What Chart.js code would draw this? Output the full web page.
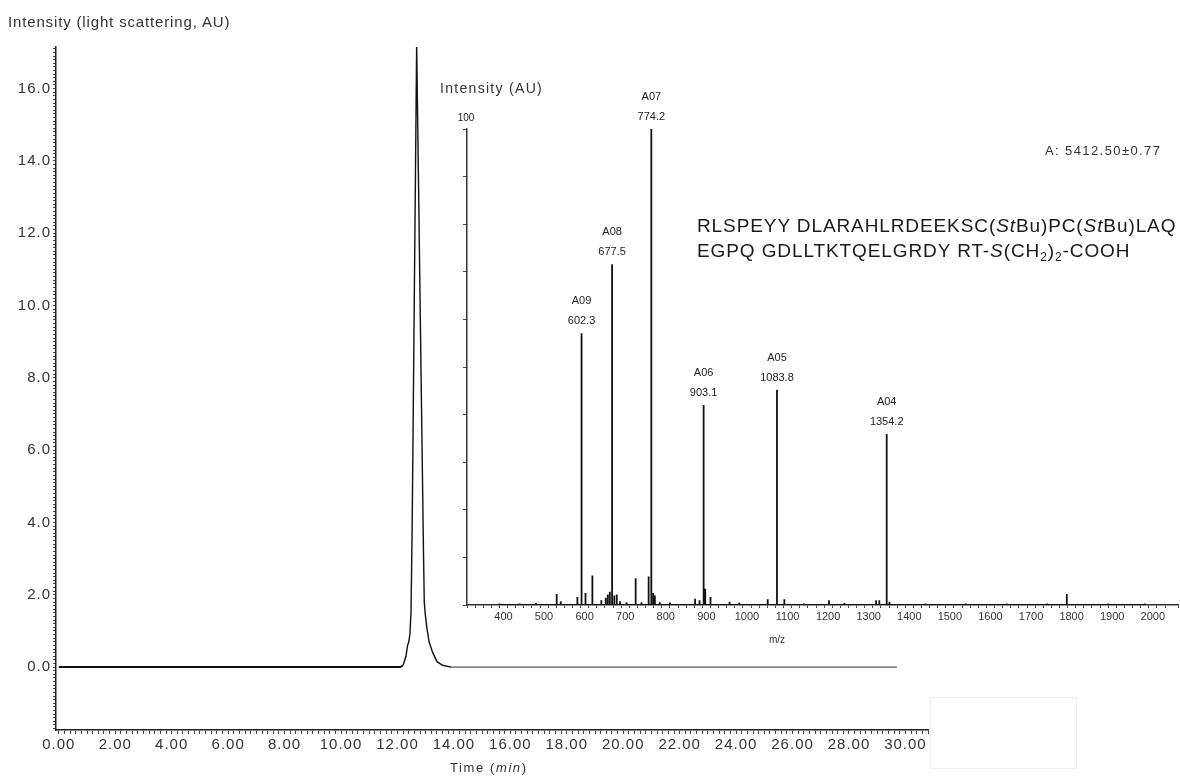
<!DOCTYPE html>
<html>
<head>
<meta charset="utf-8">
<script src="https://cdn.jsdelivr.net/npm/chart.js@4"></script>
<style>
  body { margin: 0; background: #fff; font-family: "Liberation Sans", Arial, sans-serif; color: #222; }
  #wrap { position: relative; width: 1180px; height: 778px; overflow: hidden; }
  canvas { position: absolute; }
  #main { left: 0; top: 0; }
  #inset { left: 420px; top: 80px; }
  .txt { position: absolute; white-space: nowrap; line-height: 1; }
  .seq { font-size: 19px; letter-spacing: 0.9px; color: #1a1a1a; }
  .seq sub { font-size: 12px; vertical-align: -4px; line-height: 0; }
  #blank { position: absolute; left: 930px; top: 697px; width: 145px; height: 70px; border: 1px solid #f0f0f0; }
</style>
</head>
<body>
<div id="wrap">
  <canvas id="main" width="1180" height="778"></canvas>
  <canvas id="inset" width="760" height="580"></canvas>
  <div class="txt" style="left:8px; top:14px; font-size:15px; letter-spacing:0.85px; color:#333;">Intensity (light scattering, AU)</div>
  <div class="txt" style="left:450px; top:761px; font-size:13px; letter-spacing:1.6px; color:#333;">Time (<i>min</i>)</div>
  <div class="txt" style="left:440px; top:81px; font-size:14px; letter-spacing:1.3px; color:#333;">Intensity (AU)</div>
  <div class="txt" style="left:769px; top:635px; font-size:10px; color:#333;">m/z</div>
  <div class="txt" style="left:1045px; top:144px; font-size:13px; letter-spacing:1.4px; color:#333;">A: 5412.50±0.77</div>
  <div class="txt seq" style="left:697px; top:216px;">RLSPEYY DLARAHLRDEEKSC(<i>S</i><i>t</i>Bu)PC(<i>S</i><i>t</i>Bu)LAQ</div>
  <div class="txt seq" style="left:697px; top:241px;">EGPQ GDLLTKTQELGRDY RT-<i>S</i>(CH<sub>2</sub>)<sub>2</sub>-COOH</div>
  <div id="blank"></div>
</div>
<script>
// ===== Data: chromatogram (light scattering) =====
const timeMin = [0, 12.1, 12.2, 12.3, 12.36, 12.4, 12.44, 12.48, 12.52, 12.56, 12.6, 12.64, 12.68,
  12.72, 12.76, 12.8, 12.84, 12.88, 12.92, 12.95, 12.98, 13.04, 13.12, 13.25, 13.4, 13.6, 13.9, 29.7];
const lightScatter = [0, 0, 0.05, 0.3, 0.6, 0.7, 0.9, 1.5, 3.8, 7.1, 10.5, 13.8, 17.2,
  14.9, 12.6, 10.2, 7.9, 5.6, 3.3, 1.8, 1.5, 1.1, 0.7, 0.4, 0.15, 0.05, 0, 0];

// ===== Data: mass spectrum (inset) =====
const ionNames = ["A09", "A08", "A07", "A06", "A05", "A04"];
const ionMz = [602.3, 677.5, 774.2, 903.1, 1083.8, 1354.2];
const ionIntensity = [57.1, 71.6, 100, 42, 45.2, 35.9];
const minorMz = [400, 450, 490, 541, 551, 592, 612, 629, 651, 662, 667, 672, 683, 689, 697, 713, 735.6, 750,
  767.6, 779, 783, 795, 820, 882, 893, 907, 920, 967, 991, 1061, 1102, 1150, 1212, 1250, 1328, 1336, 1361,
  1450, 1550, 1650, 1750, 1798, 1900, 1990];
const minorIntensity = [0.3, 0.3, 0.4, 2.3, 0.8, 1.7, 2.5, 6.2, 1.0, 1.5, 2.2, 2.8, 2.0, 2.2, 0.8, 0.6, 5.6, 0.6,
  6.0, 2.5, 2.0, 0.6, 0.5, 1.3, 1.0, 3.4, 1.7, 0.7, 0.5, 1.2, 1.2, 0.3, 1.0, 0.4, 1.0, 1.0, 0.7,
  0.3, 0.3, 0.3, 0.3, 2.3, 0.3, 0.3];

const FONT = "'Liberation Sans', Arial, sans-serif";
const isMult = (v, m) => Math.abs(v / m - Math.round(v / m)) < 1e-6;

// wider tick lettering, like the original instrument print-out
const wideText = {
  id: "wideText",
  beforeDraw(chart) {
    chart.ctx.letterSpacing = "1px";
  },
};

// ===== Main chromatogram =====
new Chart(document.getElementById("main"), {
  type: "line",
  data: {
    datasets: [{
      data: timeMin.map((t, i) => ({ x: t, y: lightScatter[i] })),
      borderColor: "#111",
      borderWidth: 1.8,
      pointRadius: 0,
      tension: 0,
      segment: {
        borderColor: (ctx) => (ctx.p0.parsed.x >= 13.9 ? "#555" : "#111"),
        borderWidth: (ctx) => (ctx.p0.parsed.x >= 12.2 ? 1.4 : 2),
      },
    }],
  },
  options: {
    responsive: false,
    animation: false,
    layout: { padding: { top: 47, right: 252, left: 0, bottom: 0 } },
    plugins: { legend: { display: false }, tooltip: { enabled: false } },
    scales: {
      x: {
        type: "linear",
        min: -0.1,
        max: 30.8,
        afterFit: (s) => { s.height = 48; },
        border: { color: "#222", width: 1.5 },
        grid: { drawOnChartArea: false, tickLength: 4, color: "#444" },
        ticks: {
          stepSize: 0.2,
          includeBounds: false,
          autoSkip: false,
          maxRotation: 0,
          padding: 2,
          color: "#333",
          font: { family: FONT, size: 15 },
          callback: (v) => (isMult(v, 2) && v >= 0 && v <= 30 ? v.toFixed(2) : ""),
        },
      },
      y: {
        min: -1.74,
        max: 17.15,
        afterFit: (s) => { s.width = 56; },
        border: { color: "#222", width: 1.5 },
        grid: { drawOnChartArea: false, tickLength: 3, color: "#444" },
        ticks: {
          stepSize: 0.1,
          includeBounds: false,
          autoSkip: false,
          padding: 2,
          color: "#333",
          font: { family: FONT, size: 15 },
          callback: (v) => (isMult(v, 2) && v >= 0 ? v.toFixed(1) : ""),
        },
      },
    },
  },
  plugins: [wideText],
});

// ===== Inset mass spectrum =====
const sticks = ionMz.map((m, i) => ({ mz: m, h: ionIntensity[i] }))
  .concat(minorMz.map((m, i) => ({ mz: m, h: minorIntensity[i] })))
  .sort((a, b) => a.mz - b.mz);
const stickPoints = [];
sticks.forEach((p) => {
  stickPoints.push({ x: p.mz, y: 0 }, { x: p.mz, y: p.h }, { x: p.mz, y: 0 });
});

const ionLabels = {
  id: "ionLabels",
  afterDatasetsDraw(chart) {
    const { ctx, scales } = chart;
    ctx.save();
    ctx.fillStyle = "#222";
    ctx.textAlign = "center";
    ctx.textBaseline = "middle";
    ctx.font = "11px " + FONT;
    ionMz.forEach((m, i) => {
      const x = scales.x.getPixelForValue(m);
      const y = scales.y.getPixelForValue(ionIntensity[i]);
      ctx.fillText(ionNames[i], x, y - 32);
      ctx.fillText(m.toFixed(1), x, y - 12);
    });
    // top tick value of the intensity axis
    ctx.font = "10px " + FONT;
    ctx.fillText("100", scales.y.left + scales.y.width - 1, scales.y.getPixelForValue(100) - 11);
    ctx.restore();
  },
};

new Chart(document.getElementById("inset"), {
  type: "line",
  data: {
    datasets: [{
      data: stickPoints,
      borderColor: "#111",
      borderWidth: 1.8,
      pointRadius: 0,
      tension: 0,
    }],
  },
  options: {
    responsive: false,
    animation: false,
    layout: { padding: { top: 49, right: 0, left: 0, bottom: 0 } },
    plugins: { legend: { display: false }, tooltip: { enabled: false } },
    scales: {
      x: {
        type: "linear",
        min: 320,
        max: 2072,
        afterFit: (s) => { s.height = 55; },
        border: { color: "#333", width: 1.5 },
        grid: { drawOnChartArea: false, tickLength: 3, color: "#444" },
        ticks: {
          stepSize: 20,
          autoSkip: false,
          maxRotation: 0,
          padding: 2,
          labelOffset: 4,
          color: "#333",
          font: { family: FONT, size: 11 },
          callback: (v) => (isMult(v, 100) && v >= 400 && v <= 2000 ? String(v) : ""),
        },
      },
      y: {
        min: 0,
        max: 100,
        afterFit: (s) => { s.width = 47; },
        border: { color: "#333", width: 1.5 },
        grid: { drawOnChartArea: false, tickLength: 4, color: "#444" },
        ticks: { stepSize: 10, autoSkip: false, padding: 0, callback: () => "" },
      },
    },
  },
  plugins: [ionLabels],
});
</script>
</body>
</html>
